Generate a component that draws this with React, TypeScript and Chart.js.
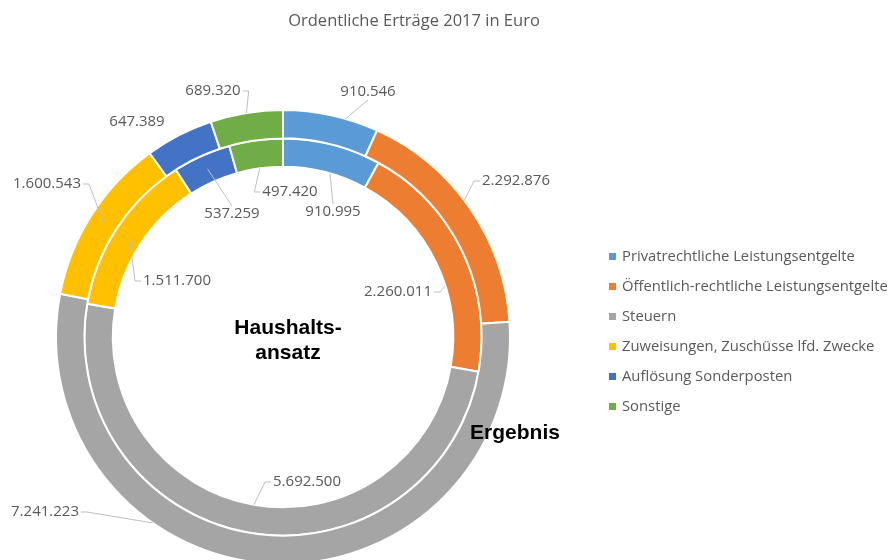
import React, { useEffect, useRef } from "react";
import { Chart, registerables } from "chart.js";

Chart.register(...registerables);

const TITLE = "Ordentliche Erträge 2017 in Euro";
const CATEGORIES = [
  "Privatrechtliche Leistungsentgelte",
  "Öffentlich-rechtliche Leistungsentgelte",
  "Steuern",
  "Zuweisungen, Zuschüsse lfd. Zwecke",
  "Auflösung Sonderposten",
  "Sonstige",
];
const SERIES_NAMES = ["Ergebnis", "Haushaltsansatz"];
const ERGEBNIS = [910546, 2292876, 7241223, 1600543, 647389, 689320];
const HAUSHALTSANSATZ = [910995, 2260011, 5692500, 1511700, 537259, 497420];
const COLORS = ["#5B9BD5", "#ED7D31", "#A5A5A5", "#FFC000", "#4472C4", "#70AD47"];

// label placement (style): offset of label centre from chart centre, leader target
type LabelStyle = { dx: number; dy: number; ang: number | null; r: "outer" | "inner" | "mid" | null };
const OUTER_LABELS: LabelStyle[] = [
  { dx: 85, dy: -245, ang: 16, r: "outer" },
  { dx: 233, dy: -156, ang: 53, r: "outer" },
  { dx: -238, dy: 175, ang: 215, r: "outer" },
  { dx: -236, dy: -153, ang: null, r: "mid" },
  { dx: -146, dy: -215, ang: null, r: null },
  { dx: -70, dy: -246, ang: null, r: "outer" },
];
const INNER_LABELS: LabelStyle[] = [
  { dx: 50, dy: -125, ang: 16, r: "inner" },
  { dx: 115, dy: -45, ang: 72.5, r: "inner" },
  { dx: 24, dy: 145, ang: null, r: "inner" },
  { dx: -106, dy: -56, ang: null, r: "mid" },
  { dx: -51, dy: -123, ang: null, r: "mid" },
  { dx: 7, dy: -145, ang: null, r: "inner" },
];

const fmt = (v: number) => String(v).replace(/\B(?=(\d{3})+(?!\d))/g, ".");

const TEXT_GREY = "#595959";
const LABEL_FONT = "15px 'Open Sans'";
const LEGEND_FONT = "14.8px 'Open Sans'";
const TITLE_FONT = "16.5px 'Open Sans'";

const overlayPlugin = {
  id: "overlay",
  afterDatasetsDraw(chart: any) {
    const ctx = chart.ctx as CanvasRenderingContext2D;
    ctx.save();
    // title
    ctx.fillStyle = TEXT_GREY;
    ctx.font = TITLE_FONT;
    ctx.textAlign = "center";
    ctx.textBaseline = "middle";
    ctx.fillText(TITLE, 414, 21);

    const layouts = [OUTER_LABELS, INNER_LABELS];
    chart.data.datasets.forEach((ds: any, di: number) => {
      const meta = chart.getDatasetMeta(di);
      meta.data.forEach((el: any, i: number) => {
        const st = layouts[di][i];
        const cx = el.x;
        const cy = el.y;
        const text = fmt(ds.data[i]);
        ctx.font = LABEL_FONT;
        const w = ctx.measureText(text).width;
        const lx = cx + st.dx;
        const ly = cy + st.dy;
        const box = { l: lx - w / 2, r: lx + w / 2, t: ly - 8, b: ly + 8 };
        if (st.r) {
          const a =
            st.ang !== null ? -Math.PI / 2 + (st.ang * Math.PI) / 180 : (el.startAngle + el.endAngle) / 2;
          const rad =
            st.r === "outer" ? el.outerRadius : st.r === "inner" ? el.innerRadius : (el.outerRadius + el.innerRadius) / 2;
          const tx = cx + Math.cos(a) * rad;
          const ty = cy + Math.sin(a) * rad;
          ctx.strokeStyle = "#BFBFBF";
          ctx.lineWidth = 1;
          ctx.beginPath();
          if (tx < box.l - 2) {
            ctx.moveTo(box.l - 2, ly);
            ctx.lineTo(box.l - 8, ly);
            ctx.lineTo(tx, ty);
          } else if (tx > box.r + 2) {
            ctx.moveTo(box.r + 2, ly);
            ctx.lineTo(box.r + 8, ly);
            ctx.lineTo(tx, ty);
          } else if (ty < box.t) {
            ctx.moveTo(lx, box.t);
            ctx.lineTo(tx, ty);
          } else {
            ctx.moveTo(lx, box.b);
            ctx.lineTo(tx, ty);
          }
          ctx.stroke();
        }
        ctx.fillStyle = TEXT_GREY;
        ctx.textAlign = "center";
        ctx.textBaseline = "middle";
        ctx.fillText(text, lx, ly);
      });
    });

    // centre and ring names
    ctx.fillStyle = "#000";
    ctx.font = "bold 21px 'Liberation Sans'";
    ctx.textAlign = "center";
    ctx.textBaseline = "middle";
    ctx.fillText("Haushalts-", 288, 328);
    ctx.fillText("ansatz", 288, 353);
    ctx.fillText(SERIES_NAMES[0], 515, 433);

    // legend
    ctx.font = LEGEND_FONT;
    ctx.textAlign = "left";
    CATEGORIES.forEach((c, i) => {
      const y = 257 + i * 30;
      ctx.fillStyle = COLORS[i];
      ctx.fillRect(609, y - 4, 7, 7);
      ctx.fillStyle = TEXT_GREY;
      ctx.fillText(c, 622, y);
    });
    ctx.restore();
  },
};

export default function App() {
  const ref = useRef<HTMLCanvasElement | null>(null);
  useEffect(() => {
    if (!ref.current) return;
    const chart = new Chart(ref.current, {
      type: "doughnut",
      data: {
        labels: CATEGORIES,
        datasets: [
          { label: SERIES_NAMES[0], data: ERGEBNIS, backgroundColor: COLORS, borderColor: "#ffffff", borderWidth: 2 },
          { label: SERIES_NAMES[1], data: HAUSHALTSANSATZ, backgroundColor: COLORS, borderColor: "#ffffff", borderWidth: 2 },
        ],
      },
      options: {
        responsive: false,
        animation: false,
        cutout: "75%",
        layout: { padding: { left: 55, right: 382, top: 109, bottom: 35 } },
        plugins: { legend: { display: false }, tooltip: { enabled: false }, title: { display: false } },
      },
      plugins: [overlayPlugin],
    });
    return () => chart.destroy();
  }, []);
  return (
    <div style={{ position: "fixed", left: 0, top: 0, width: 893, height: 560, overflow: "hidden", background: "#fff" }}>
      <canvas ref={ref} width={893} height={600} style={{ width: 893, height: 600, display: "block" }} />
    </div>
  );
}
